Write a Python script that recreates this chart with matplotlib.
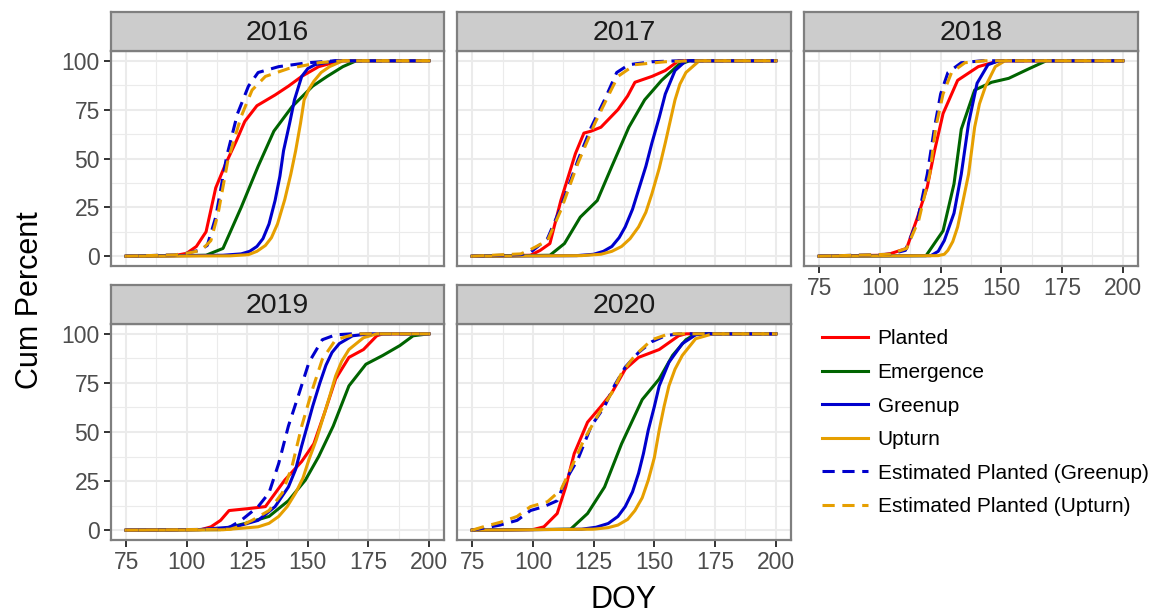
import matplotlib
matplotlib.use("Agg")
import matplotlib.pyplot as plt
from matplotlib.lines import Line2D

plt.rcParams["font.family"] = ["Liberation Sans", "DejaVu Sans"]

# cumulative percent of fields reaching each stage, by day of year
# each list holds (DOY, cum percent) pairs
planted_2016 = [(75, 0), (95, 0.3), (100, 1.5), (104, 5), (108, 12.5), (112, 35), (116, 47), (120.5, 59), (124, 69),
                (129, 77), (136.5, 82.5), (142, 87), (147.5, 92), (154.5, 97), (163.5, 100), (200, 100)]
emergence_2016 = [(75, 0), (108, 0.5), (115, 4), (122.5, 25), (129.5, 46), (136, 64), (143.5, 76.5), (152, 87),
                  (158, 92), (164.5, 97), (170, 100), (200, 100)]
greenup_2016 = [(75, 0), (115, 0.5), (122.5, 1.2), (126, 2.5), (129, 5), (131.5, 9), (134, 16.5), (136.5, 28.5),
                (138.5, 41), (140, 54), (142.5, 68), (144.5, 80), (147.5, 92), (150, 96), (153, 98), (161.5, 100),
                (200, 100)]
upturn_2016 = [(75, 0), (118, 0.2), (125.5, 0.8), (129, 2.5), (132.5, 5.5), (135, 9.5), (137.5, 16.5), (140.5, 29),
               (143, 42), (145, 54), (147, 68), (148.5, 80), (150.5, 85.5), (152.5, 89.5), (155.5, 94), (159, 97),
               (164.5, 100), (200, 100)]
est_greenup_2016 = [(75, 0), (95, 0.7), (100, 1.5), (105, 3), (108.5, 5.5), (112, 20), (116.5, 51), (121, 73),
                    (125.5, 87), (129.5, 94), (138, 97), (150, 99), (161.5, 100), (200, 100)]
est_upturn_2016 = [(75, 0), (95, 0.7), (100, 1.5), (106, 3), (110, 8), (113, 22), (117, 49), (122.5, 71.5),
                   (127, 85), (132.5, 92), (142, 96), (154.5, 99), (164.5, 100), (200, 100)]

planted_2017 = [(75, 0), (99, 0.5), (103, 3), (107, 6.5), (111.5, 28.5), (117.5, 52.5), (121, 63), (124, 64),
                (128, 66), (135, 75), (139, 82), (142, 89), (149, 92), (154.5, 95), (160, 100), (200, 100)]
emergence_2017 = [(75, 0), (107, 0.5), (113, 6.5), (119.5, 20), (126.5, 28.5), (132.5, 46), (139.5, 66), (146, 80),
                  (153, 90), (160, 98), (164.5, 100), (200, 100)]
greenup_2017 = [(75, 0), (118, 0.3), (125, 1), (129, 2.5), (132.5, 5), (135.5, 9.5), (138, 15), (141, 24),
                (143.5, 34), (146.5, 46), (149, 58), (152, 71), (154.5, 83), (158.5, 95), (163, 100), (200, 100)]
upturn_2017 = [(75, 0), (120, 0.3), (128, 1), (132.5, 2.5), (136.5, 5), (140, 9), (143.5, 15), (146.5, 22.5),
               (149, 32), (152, 45), (154.5, 58), (156.5, 69), (158.5, 80), (160.5, 88), (163, 94), (168.5, 100),
               (200, 100)]
est_greenup_2017 = [(75, 0), (95, 0.8), (99, 2), (106, 9), (111.5, 25), (118.5, 49), (124, 66), (129.5, 80),
                    (134.5, 94), (139.5, 98), (149, 99.5), (160, 100), (200, 100)]
est_upturn_2017 = [(75, 0), (95, 1.2), (99, 3.4), (106, 8), (111.5, 23.5), (118.5, 47.5), (125.5, 68), (131, 82),
                   (135, 92), (142, 98), (154.5, 99.5), (165.5, 100), (200, 100)]

planted_2018 = [(75, 0), (100, 0.5), (104.5, 1.4), (111, 4), (115.5, 20), (119.5, 35.5), (122.5, 54), (126, 73),
                (132, 90), (140.5, 97), (149, 100), (200, 100)]
emergence_2018 = [(75, 0), (119, 0.3), (126, 13), (130.5, 37), (133.5, 65), (139, 85), (146, 89), (153, 91),
                  (161.5, 96), (168.5, 100), (200, 100)]
greenup_2018 = [(75, 0), (121, 0.3), (124, 2.5), (126.5, 8), (130.5, 22), (133.5, 42), (136.5, 68), (140, 88.5),
                (144.5, 98), (149, 100), (200, 100)]
upturn_2018 = [(75, 0), (124, 0.3), (126.5, 1), (128, 3), (130, 7.5), (132, 15), (136.5, 42), (139, 66),
               (141, 78), (143.5, 87), (147.5, 97), (151.5, 100), (200, 100)]
est_greenup_2018 = [(75, 0), (104, 1), (110.5, 3), (115.5, 18.5), (119.5, 42), (122.5, 66), (125, 83), (128, 94),
                    (133.5, 99), (142, 100), (200, 100)]
est_upturn_2018 = [(75, 0), (104, 1), (111, 4), (116, 18.5), (120.5, 42), (123, 66), (126, 83), (129.5, 94),
                   (135, 99), (143, 100), (200, 100)]

planted_2019 = [(75, 0), (106, 0.3), (110, 1.7), (114, 5), (117.5, 10), (125.5, 11), (132.5, 12), (140.5, 25.5),
                (147.5, 35), (152.5, 44), (157, 60), (161.5, 77), (167, 88), (173, 92), (178.5, 99), (181, 100),
                (200, 100)]
emergence_2019 = [(75, 0), (114, 0.3), (124, 3.4), (134, 7), (142, 15), (149, 25.5), (154.5, 37.5), (160.5, 53),
                  (167, 73.5), (174, 84.5), (181, 89), (188, 94), (193.5, 99), (200, 100)]
greenup_2019 = [(75, 0), (105, 0.3), (120, 1.7), (129.5, 5), (136.5, 12), (142, 22), (145, 31), (147.5, 43),
                (150, 54), (152, 63), (155, 75), (157.5, 84), (160, 90.5), (163, 95), (168.5, 99), (175.5, 100),
                (200, 100)]
upturn_2019 = [(75, 0), (115, 0.2), (129.5, 1.7), (134, 3.5), (138, 7), (141.5, 12), (145, 19), (148, 26.5),
               (150.5, 36), (153.5, 46), (156, 56), (159, 68), (161.5, 78.5), (164, 86), (167, 92), (173, 98),
               (178.5, 100), (200, 100)]
est_greenup_2019 = [(75, 0), (115, 0.5), (118, 1.7), (122.5, 5), (129.5, 12), (134, 19), (138, 34), (142, 53),
                    (146.5, 70), (150.5, 85.5), (156, 97), (161.5, 99.5), (168.5, 100), (200, 100)]
est_upturn_2019 = [(75, 0), (118, 0.5), (122, 2), (127, 5), (134, 10), (139.5, 19), (143.5, 32.5), (147.5, 53),
                   (152, 72), (156, 87), (161.5, 97), (170, 100), (200, 100)]

planted_2020 = [(75, 0), (100, 0.3), (104.5, 1.7), (110, 8.5), (113.5, 22), (117, 39), (122.5, 55), (128, 63),
                (132.5, 70), (138, 82), (143.5, 88), (152, 92), (160, 99), (163, 100), (200, 100)]
emergence_2020 = [(75, 0), (115.5, 0.5), (122.5, 8.5), (129.5, 22), (136.5, 44), (145, 66.5), (152, 77),
                  (157.5, 89), (163, 97), (167, 100), (200, 100)]
greenup_2020 = [(75, 0), (120, 0.5), (126, 1.5), (131, 3.4), (135, 7), (138, 12), (141, 19.5), (143.5, 29),
                (145.5, 39), (147.5, 51), (150, 63), (152, 73.5), (156, 85.5), (161.5, 95), (167, 99.5),
                (171, 100), (200, 100)]
upturn_2020 = [(75, 0), (125, 0.5), (131, 1.3), (135, 2.6), (139, 5.5), (142, 10), (145, 16.5), (147.5, 25.5),
               (150, 37), (152, 51), (154, 63), (156, 73.5), (158.5, 82), (161.5, 89), (167, 97.5), (174, 100),
               (200, 100)]
est_greenup_2020 = [(75, 0), (79.5, 1), (86.5, 2.6), (93.5, 5), (99, 10), (104.5, 12), (110, 15), (113.5, 25.5),
                    (118.5, 36), (124, 53), (129.5, 63), (133.5, 73.5), (138, 83), (143.5, 90.5), (149, 96),
                    (154.5, 99), (160, 100), (200, 100)]
est_upturn_2020 = [(75, 0), (79.5, 1.7), (86.5, 4), (93.5, 7), (99, 12), (106, 14.5), (111.5, 20.5), (115.5, 31),
                   (121, 46), (126.5, 58), (132.5, 70), (136.5, 80), (142, 89), (149, 97), (156, 100), (200, 100)]

years = [2016, 2017, 2018, 2019, 2020]
series_names = ["Planted", "Emergence", "Greenup", "Upturn",
                "Estimated Planted (Greenup)", "Estimated Planted (Upturn)"]
x_ticks = [75, 100, 125, 150, 175, 200]
y_ticks = [0, 25, 50, 75, 100]

curves = {
    2016: [planted_2016, emergence_2016, greenup_2016, upturn_2016, est_greenup_2016, est_upturn_2016],
    2017: [planted_2017, emergence_2017, greenup_2017, upturn_2017, est_greenup_2017, est_upturn_2017],
    2018: [planted_2018, emergence_2018, greenup_2018, upturn_2018, est_greenup_2018, est_upturn_2018],
    2019: [planted_2019, emergence_2019, greenup_2019, upturn_2019, est_greenup_2019, est_upturn_2019],
    2020: [planted_2020, emergence_2020, greenup_2020, upturn_2020, est_greenup_2020, est_upturn_2020],
}

colors = ["#ff0000", "#006400", "#0000cd", "#e69f00", "#0000cd", "#e69f00"]
dashed = [False, False, False, False, True, True]
DASH = (0, (4.0, 2.5))
LW = 2.2

W, H = 1151, 615
fig = plt.figure(figsize=(W / 100, H / 100), dpi=100)


def px_axes(x0, y0, x1, y1, **kw):
    # axes from pixel box, top-left origin
    return fig.add_axes([x0 / W, 1 - y1 / H, (x1 - x0) / W, (y1 - y0) / H], **kw)


cols = [(111, 444), (457, 791), (804, 1138)]
rows = [(12, 51, 266), (285, 324, 540)]
border = "#7f7f7f"

for i, yr in enumerate(years):
    r, c = divmod(i, 3)
    x0, x1 = cols[c]
    s_top, p_top, p_bot = rows[r]

    ax = px_axes(x0, p_top, x1, p_bot)
    ax.set_xlim(68.75, 206.25)
    ax.set_ylim(-5, 105)
    ax.set_xticks(x_ticks)
    ax.set_yticks(y_ticks)
    ax.set_xticks([87.5, 112.5, 137.5, 162.5, 187.5], minor=True)
    ax.set_yticks([12.5, 37.5, 62.5, 87.5], minor=True)
    ax.grid(which="major", color="#ebebeb", lw=1.5)
    ax.grid(which="minor", color="#ebebeb", lw=0.8)
    ax.set_axisbelow(True)
    ax.tick_params(which="minor", length=0)
    ax.tick_params(which="major", length=5, width=1.4, color="#333333",
                   labelsize=16.5, labelcolor="#4d4d4d", pad=3)
    for sp in ax.spines.values():
        sp.set_color(border)
        sp.set_linewidth(1.6)

    show_x = (r == 1) or (i == 2)
    show_y = (c == 0)
    if not show_x:
        ax.tick_params(axis="x", which="major", length=0, labelbottom=False)
    if not show_y:
        ax.tick_params(axis="y", which="major", length=0, labelleft=False)

    for pts, col, dsh in zip(curves[yr], colors, dashed):
        doy = [p[0] for p in pts]
        pct = [p[1] for p in pts]
        ax.plot(doy, pct, color=col, lw=LW, ls=DASH if dsh else "-")

    # facet strip
    st = px_axes(x0, s_top, x1, p_top)
    st.set_facecolor("#cccccc")
    st.set_xticks([])
    st.set_yticks([])
    for sp in st.spines.values():
        sp.set_color(border)
        sp.set_linewidth(1.6)
    st.text(0.5, 0.47, str(yr), ha="center", va="center", fontsize=20.5, color="#1a1a1a",
            transform=st.transAxes)

fig.text(30 / W, 1 - 300 / H, "Cum Percent", rotation=90, ha="center", va="center", fontsize=22)
fig.text(624 / W, 1 - 600 / H, "DOY", ha="center", va="center", fontsize=22)

handles = [Line2D([], [], color=col, lw=LW, ls=DASH if dsh else "-")
           for col, dsh in zip(colors, dashed)]
fig.legend(handles, series_names, loc="upper left", bbox_to_anchor=(814 / W, 1 - 321 / H),
           frameon=False, fontsize=15, handlelength=2.2, handletextpad=0.45, labelspacing=0.7,
           borderaxespad=0)

fig.savefig("out.png", dpi=100)
